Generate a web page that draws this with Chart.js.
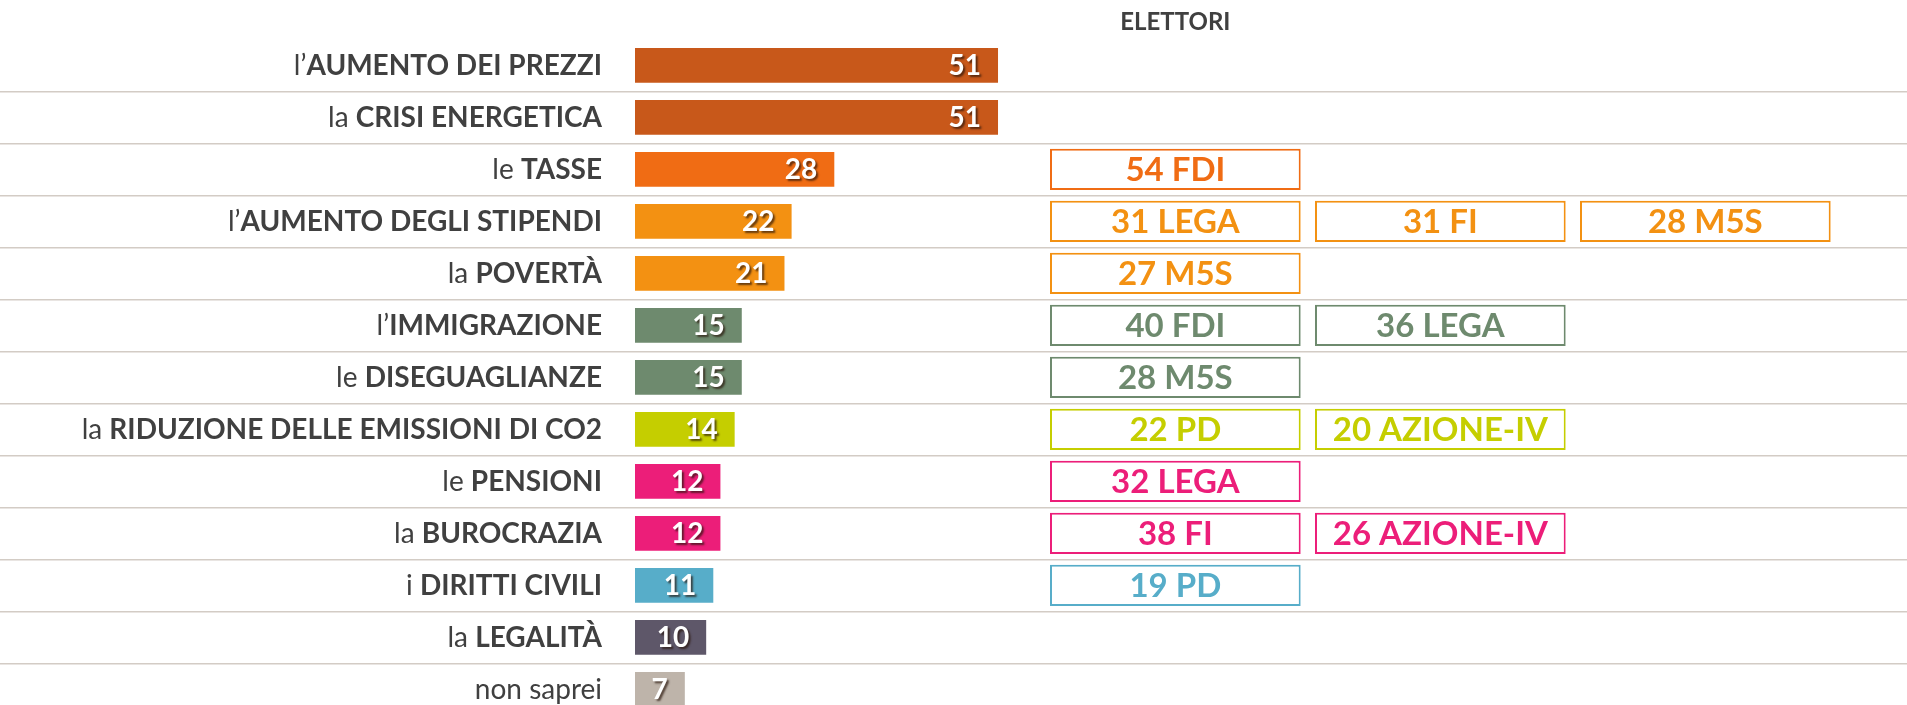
<!DOCTYPE html>
<html>
<head>
<meta charset="utf-8">
<script src="https://cdn.jsdelivr.net/npm/chart.js@4.4.1/dist/chart.umd.min.js"></script>
<style>
html,body{margin:0;padding:0;background:#fff;}
</style>
</head>
<body>
<canvas id="myChart" width="1907" height="705"></canvas>
<script>
// temi (prefisso normale + parte in grassetto)
const prefixes = ['l’', 'la ', 'le ', 'l’', 'la ', 'l’', 'le ', 'la ', 'le ', 'la ', 'i ', 'la ', 'non saprei']
const topics = ['AUMENTO DEI PREZZI', 'CRISI ENERGETICA', 'TASSE', 'AUMENTO DEGLI STIPENDI', 'POVERTÀ', 'IMMIGRAZIONE',
  'DISEGUAGLIANZE', 'RIDUZIONE DELLE EMISSIONI DI CO2', 'PENSIONI', 'BUROCRAZIA', 'DIRITTI CIVILI', 'LEGALITÀ', '']
const values = [51, 51, 28, 22, 21, 15, 15, 14, 12, 12, 11, 10, 7]
const colors = ['#C8581A', '#C8581A', '#F06C14', '#F39112', '#F39112', '#6E8A6E', '#6E8A6E',
  '#C5CE00', '#EC1E79', '#EC1E79', '#57ADC9', '#5E5769', '#BEB4AA']

// elettori: tre colonne di riquadri
const col1Val = [null, null, 54, 31, 27, 40, 28, 22, 32, 38, 19, null, null]
const col1Party = ['', '', 'FDI', 'LEGA', 'M5S', 'FDI', 'M5S', 'PD', 'LEGA', 'FI', 'PD', '', '']
const col2Val = [null, null, null, 31, null, 36, null, 20, null, 26, null, null, null]
const col2Party = ['', '', '', 'FI', '', 'LEGA', '', 'AZIONE-IV', '', 'AZIONE-IV', '', '', '']
const col3Val = [null, null, null, 28, null, null, null, null, null, null, null, null, null]
const col3Party = ['', '', '', 'M5S', '', '', '', '', '', '', '', '', '']

const colVals = [col1Val, col2Val, col3Val]
const colParties = [col1Party, col2Party, col3Party]
const BOX_W = 0.946
const FONT = 'Lato'

const labels = prefixes.map((p, i) => p + topics[i])

let datasets = [{
  data: values,
  xAxisID: 'x',
  backgroundColor: colors,
  borderWidth: 0,
  categoryPercentage: 1,
  barPercentage: 0.667,
  grouped: false,
  clip: false
}]
for (let c = 0; c < 3; c++) {
  datasets.push({
    data: colVals[c].map(v => v == null ? null : [c, c + BOX_W]),
    xAxisID: 'x2',
    backgroundColor: '#ffffff',
    borderColor: colors,
    borderWidth: 2,
    borderSkipped: false,
    categoryPercentage: 1,
    barPercentage: 0.79,
    grouped: false,
    clip: false
  })
}

const textPlugin = {
  id: 'textPlugin',
  afterDatasetsDraw(chart) {
    const ctx = chart.ctx
    const y = chart.scales.y
    const x2 = chart.scales.x2
    const labelX = chart.chartArea.left - 33
    ctx.save()
    ctx.textBaseline = 'alphabetic'

    // etichette a sinistra
    for (let i = 0; i < labels.length; i++) {
      const base = y.getPixelForValue(i) + 10
      ctx.textAlign = 'right'
      ctx.fillStyle = '#404040'
      ctx.font = 'bold 28px ' + FONT
      let w = 0
      if (topics[i]) {
        ctx.fillText(topics[i], labelX, base)
        w = ctx.measureText(topics[i]).width
      }
      ctx.font = '28px ' + FONT
      ctx.fillText(prefixes[i], labelX - w, base)
    }

    // valori sulle barre
    const bars = chart.getDatasetMeta(0).data
    ctx.font = 'bold 28px ' + FONT
    ctx.textAlign = 'right'
    ctx.fillStyle = '#ffffff'
    ctx.shadowColor = 'rgba(40,20,10,0.7)'
    ctx.shadowOffsetX = 2
    ctx.shadowOffsetY = 2
    ctx.shadowBlur = 2
    bars.forEach((b, i) => {
      ctx.fillText(values[i], b.x - 17, b.y + 10)
    })
    ctx.shadowColor = 'transparent'

    // testo nei riquadri
    ctx.font = 'bold 33px ' + FONT
    ctx.textAlign = 'center'
    for (let c = 0; c < 3; c++) {
      const meta = chart.getDatasetMeta(c + 1)
      meta.data.forEach((b, i) => {
        if (colVals[c][i] == null) return
        ctx.fillStyle = colors[i]
        ctx.fillText(colVals[c][i] + ' ' + colParties[c][i], (b.x + b.base) / 2, b.y + 12)
      })
    }

    // intestazione
    ctx.font = 'bold 24px ' + FONT
    ctx.fillStyle = '#404040'
    ctx.fillText('ELETTORI', (x2.getPixelForValue(0) + x2.getPixelForValue(BOX_W)) / 2, 30)
    ctx.restore()
  }
}

const ctx = document.getElementById('myChart')
const myChart = new Chart(ctx, {
  type: 'bar',
  data: { labels: labels, datasets: datasets },
  options: {
    indexAxis: 'y',
    responsive: false,
    animation: false,
    layout: { padding: { top: 65.35, bottom: 15.65, left: 0, right: 0 } },
    plugins: { legend: { display: false }, tooltip: { enabled: false } },
    scales: {
      y: {
        type: 'category',
        offset: false,
        ticks: { display: false },
        border: { display: false },
        grid: { offset: true, color: '#d3ccc5', lineWidth: 1.5, drawTicks: true, tickLength: 635 }
      },
      x: { display: false, min: 0, max: 178.7 },
      x2: { display: false, min: -1.566, max: 3.234 }
    }
  },
  plugins: [textPlugin]
})
</script>
</body>
</html>
